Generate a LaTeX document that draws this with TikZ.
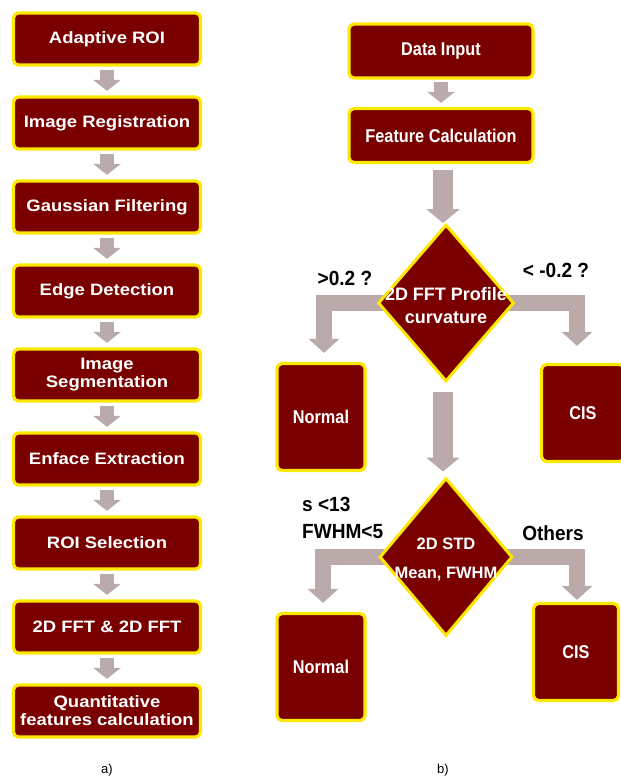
\documentclass[tikz,border=0pt]{standalone}
\usepackage{fontspec}
\setmainfont{Liberation Sans}
\newfontfamily\leftfont[FakeStretch=1.12]{Liberation Sans}
\newfontfamily\rightfont[FakeStretch=0.88]{Liberation Sans}
\newfontfamily\labfont[FakeStretch=0.93]{Liberation Sans}
\usetikzlibrary{arrows.meta,backgrounds,shapes.geometric}
\definecolor{boxred}{RGB}{122,0,0}
\definecolor{boxrim}{RGB}{255,232,0}
\definecolor{arrgray}{RGB}{186,170,170}

\begin{document}
\begin{tikzpicture}[
  x=1pt, y=-1pt,
  lbox/.style={rectangle, rounded corners=5pt, draw=boxrim, line width=3.2pt, fill=boxred, text=white,
               minimum width=187pt, minimum height=52pt, inner sep=0pt, align=center,
               font=\leftfont\bfseries\fontsize{16.5}{18}\selectfont},
  rbox/.style={lbox, minimum width=184pt, minimum height=54pt, font=\rightfont\bfseries\fontsize{18.5}{21}\selectfont},
  obox/.style={rbox, minimum width=88pt, minimum height=104pt},
  dia/.style ={diamond, draw=boxrim, line width=3pt, fill=boxred, inner sep=0pt},
  dtext/.style={text=white, align=center, inner sep=0pt, font=\bfseries\fontsize{18}{23}\selectfont},
  lab/.style ={inner sep=0pt, align=left, font=\labfont\bfseries\fontsize{20.5}{24}\selectfont},
  captxt/.style={inner sep=0pt, font=\fontsize{13}{15}\selectfont},
  sarrow/.style={draw=arrgray, line width=14pt, -{Triangle[width=27pt,length=11pt]}},  % short step arrows
  barrow/.style={draw=arrgray, line width=20pt, -{Triangle[width=33pt,length=14pt]}},  % long main arrows
  earrow/.style={draw=arrgray, line width=16pt, line join=miter, -{Triangle[width=30pt,length=14pt]}}, % branch arrows
]
\useasboundingbox (0,0) rectangle (621,779);

% ============================== PANEL (a) ==============================
\foreach \i/\txt in {1/Adaptive ROI, 2/Image Registration, 3/Gaussian Filtering, 4/Edge Detection,
                     5/Image\\Segmentation, 6/Enface Extraction, 7/ROI Selection,
                     8/2D FFT \& 2D FFT, 9/Quantitative\\features calculation}{
  \node[lbox] (a\i) at (107,{39+(\i-1)*84}) {\txt};
}
\begin{scope}[on background layer]
  \foreach \i in {1,...,8}{ \pgfmathtruncatemacro{\j}{\i+1}
    \draw[sarrow, shorten <=3.5pt, shorten >=4.5pt] (a\i.south) -- (a\j.north);
  }
\end{scope}
\node[captxt] (capa) at (107,770) {a)};

% ============================== PANEL (b) ==============================
\node[rbox] (inp)  at (441,51)    {Data Input};
\node[rbox] (feat) at (441,135.5) {Feature Calculation};

\node[dia, minimum width=136pt, minimum height=157pt] (d1) at (446,303) {};
\node[dtext] (d1t) at (446,306) {2D FFT Profile\\curvature};
\node[dia, minimum width=133pt, minimum height=158pt] (d2) at (446,557) {};
\node[dtext, font=\bfseries\fontsize{16.5}{22}\selectfont] (d2t) at (446,560) {2D STD\\[7pt]Mean, FWHM};

\node[obox, minimum height=107pt] (n1) at (321,417) {Normal};
\node[obox, minimum width=83pt, minimum height=97pt] (c1) at (583,413) {CIS};
\node[obox, minimum height=107pt] (n2) at (321,667) {Normal};
\node[obox, minimum width=85pt, minimum height=97pt] (c2) at (576,652) {CIS};

% branch conditions
\node[lab] (l1) at (345,278) {>0.2 ?};
\node[lab] (l2) at (556,270) {< -0.2 ?};
\node[lab, anchor=west] (l3) at (302,518) {s <13\\[3pt]FWHM<5};
\node[lab] (l4) at (553,533) {Others};

\begin{scope}[on background layer]
  \draw[sarrow, shorten <=2pt, shorten >=4pt] (inp.south) -- (feat.north);
  \draw[barrow, shorten <=6pt, shorten >=0pt] ([xshift=-3pt]d1.north |- feat.south) -- ([xshift=-3pt]d1.north);
  \draw[barrow, shorten <=9pt, shorten >=5pt] ([xshift=-3pt]d1.south) -- ([xshift=-3pt]d2.north);
  \draw[earrow] ([xshift=8pt]d1.west) -| ([xshift=3pt,yshift=9pt]n1.north);
  \draw[earrow] ([xshift=-8pt]d1.east) -| ([xshift=-6pt,yshift=17pt]c1.north);
  \draw[earrow] ([xshift=8pt]d2.west) -| ([xshift=2pt,yshift=9pt]n2.north);
  \draw[earrow] ([xshift=-8pt]d2.east) -| ([xshift=1pt,yshift=2pt]c2.north);
\end{scope}
\node[captxt] (capb) at (443,770) {b)};
\end{tikzpicture}
\end{document}
